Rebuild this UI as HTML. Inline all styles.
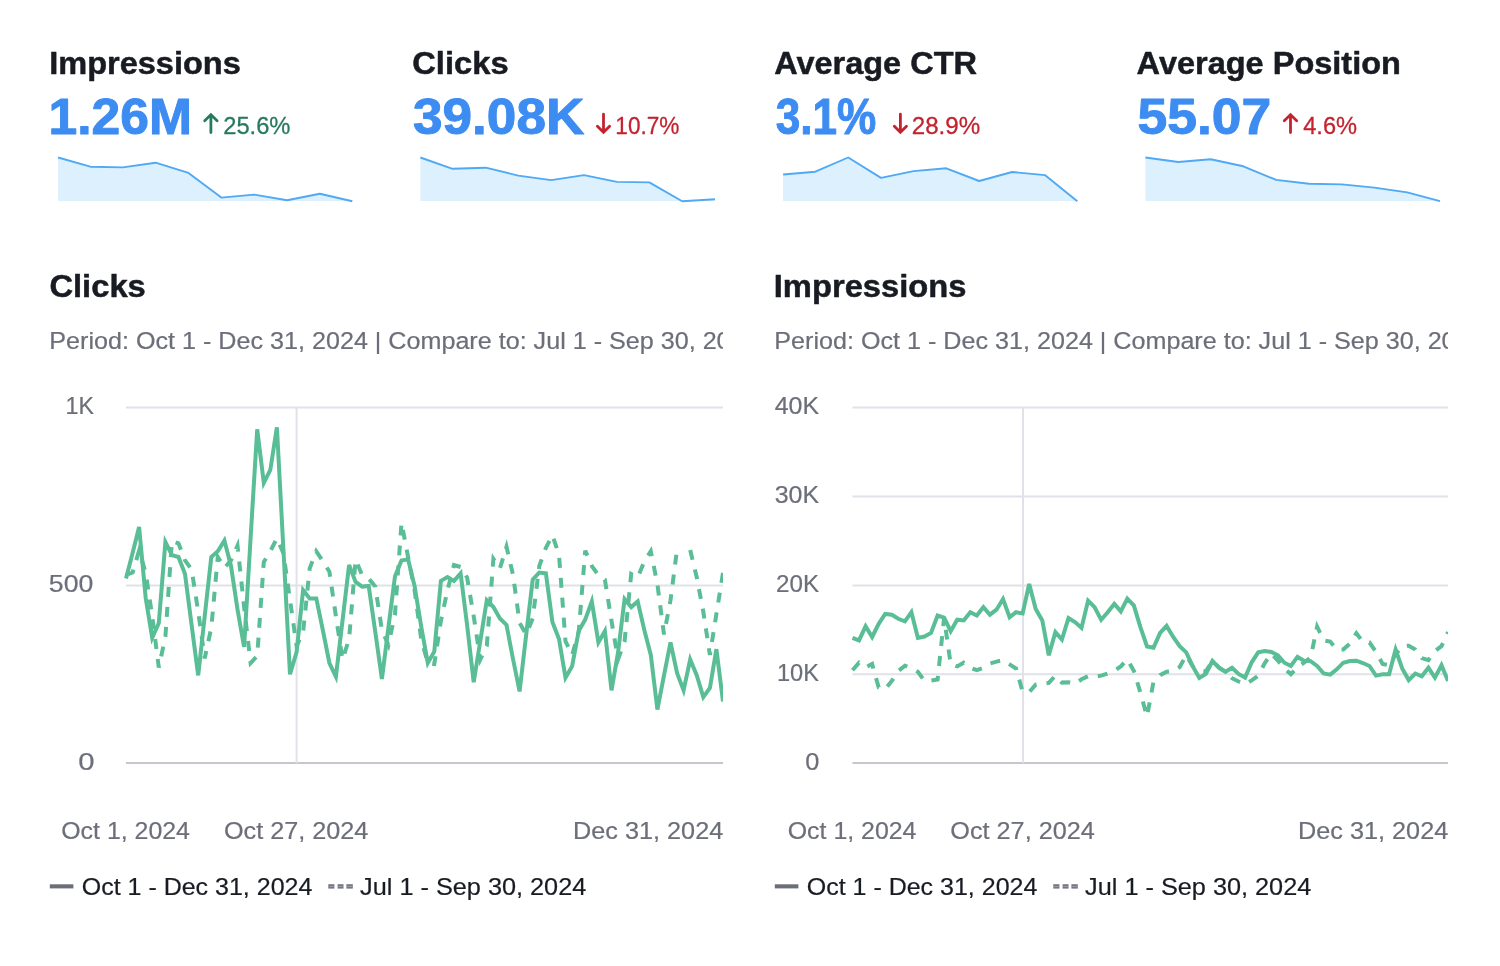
<!DOCTYPE html>
<html><head><meta charset="utf-8"><title>Search performance</title>
<style>
html,body{margin:0;padding:0;background:#fff;}
body{width:1500px;height:966px;overflow:hidden;font-family:"Liberation Sans",sans-serif;}
svg{display:block}
text{font-family:"Liberation Sans",sans-serif;}
.h{font-size:31.5px;font-weight:700;fill:#191b23;letter-spacing:-0.2px}
.big{font-size:48.5px;font-weight:700;fill:#3d8cf2;letter-spacing:-0.6px}
.delta{font-size:23px;letter-spacing:0.2px}
.sub{font-size:23.5px;fill:#6c6e79;letter-spacing:0.55px}
.ax{font-size:23.5px;fill:#6c6e79;letter-spacing:0.5px}
.lg{font-size:23.5px;fill:#191b23;letter-spacing:0.5px}
</style></head><body>
<svg width="1500" height="966" viewBox="0 0 1500 966" style="will-change:transform">
<rect width="1500" height="966" fill="#ffffff"/>
<text transform="translate(49.18 73.60) scale(1.0330 1)" font-size="31.5" font-weight="700" fill="#191b23" stroke="#191b23" stroke-width="0.5" stroke-linejoin="round">Impressions</text><text transform="translate(48.44 133.60) scale(1.0201 1)" font-size="50.6" font-weight="700" fill="#3d8cf2" stroke="#3d8cf2" stroke-width="1.0" stroke-linejoin="round">1.26M</text><path d="M210.9 132.6 V115 M204.7 120.7 L210.9 114.6 L217.1 120.7" fill="none" stroke="#27795f" stroke-width="2.8" stroke-linecap="round" stroke-linejoin="miter"/><text transform="translate(223.19 133.80) scale(0.9603 1)" font-size="24.7" font-weight="400" fill="#27795f" stroke="#27795f" stroke-width="0.3" stroke-linejoin="round">25.6%</text><path d="M58.1 157.5 L90.3 166.7 L122.7 167.4 L155.6 162.7 L188.5 172.9 L221.3 197.6 L254.2 194.6 L287.1 200.3 L319.9 193.7 L352.3 201.2 L352.3 201.0 L58.1 201.0 Z" fill="#dcf0fe" stroke="none"/><path d="M58.1 157.5 L90.3 166.7 L122.7 167.4 L155.6 162.7 L188.5 172.9 L221.3 197.6 L254.2 194.6 L287.1 200.3 L319.9 193.7 L352.3 201.2" fill="none" stroke="#50a9f4" stroke-width="1.9" stroke-linejoin="round"/><text transform="translate(412.21 73.60) scale(1.0385 1)" font-size="31.5" font-weight="700" fill="#191b23" stroke="#191b23" stroke-width="0.5" stroke-linejoin="round">Clicks</text><text transform="translate(413.05 133.60) scale(1.0497 1)" font-size="50.6" font-weight="700" fill="#3d8cf2" stroke="#3d8cf2" stroke-width="1.0" stroke-linejoin="round">39.08K</text><path d="M603.5 114.2 V131.8 M597.4 126.2 L603.5 132.2 L609.6 126.2" fill="none" stroke="#c3232f" stroke-width="2.8" stroke-linecap="round" stroke-linejoin="miter"/><text transform="translate(615.32 133.80) scale(0.9149 1)" font-size="24.7" font-weight="400" fill="#c3232f" stroke="#c3232f" stroke-width="0.3" stroke-linejoin="round">10.7%</text><path d="M420.4 157.5 L452.6 168.8 L485.7 167.7 L518.3 175.6 L551.2 180.1 L584.0 175.1 L616.9 181.9 L649.3 182.4 L682.2 201.2 L715.0 199.2 L715.0 201.0 L420.4 201.0 Z" fill="#dcf0fe" stroke="none"/><path d="M420.4 157.5 L452.6 168.8 L485.7 167.7 L518.3 175.6 L551.2 180.1 L584.0 175.1 L616.9 181.9 L649.3 182.4 L682.2 201.2 L715.0 199.2" fill="none" stroke="#50a9f4" stroke-width="1.9" stroke-linejoin="round"/><text transform="translate(774.22 73.60) scale(1.0313 1)" font-size="31.5" font-weight="700" fill="#191b23" stroke="#191b23" stroke-width="0.5" stroke-linejoin="round">Average CTR</text><text transform="translate(775.63 133.60) scale(0.8726 1)" font-size="50.6" font-weight="700" fill="#3d8cf2" stroke="#3d8cf2" stroke-width="1.0" stroke-linejoin="round">3.1%</text><path d="M900.4 114.2 V131.8 M894.3 126.2 L900.4 132.2 L906.5 126.2" fill="none" stroke="#c3232f" stroke-width="2.8" stroke-linecap="round" stroke-linejoin="miter"/><text transform="translate(911.77 133.80) scale(0.9779 1)" font-size="24.7" font-weight="400" fill="#c3232f" stroke="#c3232f" stroke-width="0.3" stroke-linejoin="round">28.9%</text><path d="M783.1 174.5 L815.3 171.7 L848.2 157.5 L881.0 177.9 L913.5 171.1 L946.3 168.3 L979.2 181.0 L1012.1 172.0 L1044.9 175.1 L1077.3 201.2 L1077.3 201.0 L783.1 201.0 Z" fill="#dcf0fe" stroke="none"/><path d="M783.1 174.5 L815.3 171.7 L848.2 157.5 L881.0 177.9 L913.5 171.1 L946.3 168.3 L979.2 181.0 L1012.1 172.0 L1044.9 175.1 L1077.3 201.2" fill="none" stroke="#50a9f4" stroke-width="1.9" stroke-linejoin="round"/><text transform="translate(1136.62 73.60) scale(1.0320 1)" font-size="31.5" font-weight="700" fill="#191b23" stroke="#191b23" stroke-width="0.5" stroke-linejoin="round">Average Position</text><text transform="translate(1137.39 133.60) scale(1.0574 1)" font-size="50.6" font-weight="700" fill="#3d8cf2" stroke="#3d8cf2" stroke-width="1.0" stroke-linejoin="round">55.07</text><path d="M1290.5 132.6 V115 M1284.3 120.7 L1290.5 114.6 L1296.7 120.7" fill="none" stroke="#c3232f" stroke-width="2.8" stroke-linecap="round" stroke-linejoin="miter"/><text transform="translate(1303.19 133.80) scale(0.9574 1)" font-size="24.7" font-weight="400" fill="#c3232f" stroke="#c3232f" stroke-width="0.3" stroke-linejoin="round">4.6%</text><path d="M1145.4 157.5 L1178.3 162.0 L1210.7 159.3 L1243.3 166.3 L1276.2 179.9 L1309.0 183.7 L1341.9 184.4 L1374.3 187.6 L1407.2 192.4 L1440.0 201.2 L1440.0 201.0 L1145.4 201.0 Z" fill="#dcf0fe" stroke="none"/><path d="M1145.4 157.5 L1178.3 162.0 L1210.7 159.3 L1243.3 166.3 L1276.2 179.9 L1309.0 183.7 L1341.9 184.4 L1374.3 187.6 L1407.2 192.4 L1440.0 201.2" fill="none" stroke="#50a9f4" stroke-width="1.9" stroke-linejoin="round"/><text transform="translate(49.41 297.00) scale(1.0385 1)" font-size="31.5" font-weight="700" fill="#191b23" stroke="#191b23" stroke-width="0.5" stroke-linejoin="round">Clicks</text><svg x="0" y="320" width="723.0" height="40" overflow="hidden"><text transform="translate(49.36 28.8) scale(1.0695 1)" font-size="23.5" fill="#6c6e79" stroke="#6c6e79" stroke-width="0.2">Period: Oct 1 - Dec 31, 2024 | Compare to: Jul 1 - Sep 30, 2024</text></svg><line x1="126.0" x2="723.0" y1="407.6" y2="407.6" stroke="#e0e1e9" stroke-width="2"/><text transform="translate(65.42 414.40) scale(0.9923 1)" font-size="23.5" font-weight="400" fill="#6c6e79" stroke="#6c6e79" stroke-width="0.2" stroke-linejoin="round">1K</text><line x1="126.0" x2="723.0" y1="585.4" y2="585.4" stroke="#e0e1e9" stroke-width="2"/><text transform="translate(48.86 592.15) scale(1.1368 1)" font-size="23.5" font-weight="400" fill="#6c6e79" stroke="#6c6e79" stroke-width="0.2" stroke-linejoin="round">500</text><line x1="126.0" x2="723.0" y1="763.1" y2="763.1" stroke="#c4c7cf" stroke-width="2"/><text transform="translate(78.25 769.90) scale(1.2455 1)" font-size="23.5" font-weight="400" fill="#6c6e79" stroke="#6c6e79" stroke-width="0.2" stroke-linejoin="round">0</text><line x1="296.6" x2="296.6" y1="407.6" y2="763.1" stroke="#e0e1e9" stroke-width="2"/><svg x="0" y="0" width="723.0" height="966" overflow="hidden"><path d="M126.0 575.0 L132.6 572.5 L139.1 550.6 L145.7 573.0 L152.2 616.0 L158.8 667.5 L165.4 636.7 L171.9 541.0 L178.5 543.3 L185.0 560.4 L191.6 569.5 L198.2 611.6 L204.7 658.4 L211.3 627.6 L217.8 557.0 L224.4 568.0 L231.0 560.4 L237.5 545.6 L244.1 607.0 L250.6 663.0 L257.2 656.0 L263.8 562.0 L270.3 551.3 L276.9 538.3 L283.5 553.5 L290.0 600.0 L296.6 646.0 L303.1 632.0 L309.7 568.4 L316.3 551.3 L322.8 561.0 L329.4 571.8 L335.9 616.2 L342.5 659.5 L349.1 639.0 L355.6 559.7 L362.2 575.2 L368.7 578.6 L375.3 586.6 L381.9 630.0 L388.4 645.0 L395.0 614.0 L401.5 522.8 L408.1 557.0 L414.7 591.0 L421.2 639.0 L427.8 663.0 L434.3 664.0 L440.9 621.0 L447.5 590.0 L454.0 565.0 L460.6 567.0 L467.1 577.5 L473.7 616.2 L480.3 659.5 L486.8 646.0 L493.4 558.8 L499.9 568.4 L506.5 546.7 L513.1 575.2 L519.6 623.0 L526.2 634.4 L532.7 618.5 L539.3 566.0 L545.9 547.8 L552.4 535.3 L559.0 554.7 L565.5 641.3 L572.1 655.0 L578.7 632.0 L585.2 550.6 L591.8 566.0 L598.4 575.2 L604.9 579.7 L611.5 620.8 L618.0 659.5 L624.6 641.3 L631.2 574.0 L637.7 577.5 L644.3 561.5 L650.8 551.3 L657.4 584.3 L664.0 634.4 L670.5 600.3 L677.1 549.0 M690.2 550.0 L696.8 577.5 L703.3 611.6 L709.9 655.0 L716.4 614.0 L723.0 572.9" fill="none" stroke="#59bd96" stroke-width="4" stroke-dasharray="10 10" stroke-linejoin="miter"/><path d="M126.0 578.6 L132.6 552.9 L139.1 526.9 L145.7 598.0 L152.2 637.8 L158.8 623.0 L165.4 542.0 L171.9 555.1 L178.5 557.0 L185.0 574.0 L191.6 624.9 L198.2 675.4 L204.7 616.2 L211.3 557.0 L217.8 551.3 L224.4 540.6 L231.0 566.0 L237.5 609.4 L244.1 647.0 L250.6 538.0 L257.2 429.3 L263.8 483.0 L270.3 470.0 L276.9 427.3 L283.5 551.0 L290.0 674.3 L296.6 652.0 L303.1 590.0 L309.7 598.4 L316.3 598.4 L322.8 630.0 L329.4 663.0 L335.9 676.6 L342.5 620.8 L349.1 565.0 L355.6 582.0 L362.2 586.6 L368.7 586.0 L375.3 632.0 L381.9 678.9 L388.4 627.6 L395.0 576.3 L401.5 560.4 L408.1 559.2 L414.7 586.6 L421.2 626.5 L427.8 663.0 L434.3 651.5 L440.9 580.9 L447.5 577.0 L454.0 580.9 L460.6 573.4 L467.1 625.0 L473.7 682.3 L480.3 641.0 L486.8 600.3 L493.4 607.0 L499.9 618.5 L506.5 624.9 L513.1 659.5 L519.6 691.4 L526.2 634.4 L532.7 579.7 L539.3 572.5 L545.9 573.4 L552.4 621.9 L559.0 639.0 L565.5 677.7 L572.1 666.3 L578.7 631.0 L585.2 619.6 L591.8 601.4 L598.4 642.4 L604.9 631.0 L611.5 690.3 L618.0 652.7 L624.6 599.1 L631.2 607.1 L637.7 601.4 L644.3 629.9 L650.8 654.9 L657.4 709.6 L664.0 675.4 L670.5 642.4 L677.1 673.2 L683.6 690.3 L690.2 659.5 L696.8 675.4 L703.3 697.1 L709.9 688.0 L716.4 649.2 L723.0 701.6" fill="none" stroke="#59bd96" stroke-width="4" stroke-linejoin="miter"/></svg><text transform="translate(61.24 838.80) scale(1.0600 1)" font-size="23.5" font-weight="400" fill="#6c6e79" stroke="#6c6e79" stroke-width="0.2" stroke-linejoin="round">Oct 1, 2024</text><text transform="translate(223.90 838.80) scale(1.0737 1)" font-size="23.5" font-weight="400" fill="#6c6e79" stroke="#6c6e79" stroke-width="0.2" stroke-linejoin="round">Oct 27, 2024</text><text transform="translate(573.05 838.80) scale(1.0752 1)" font-size="23.5" font-weight="400" fill="#6c6e79" stroke="#6c6e79" stroke-width="0.2" stroke-linejoin="round">Dec 31, 2024</text><rect x="49.8" y="884.3" width="23.6" height="4.1" fill="#6c6e79"/><text transform="translate(81.74 894.80) scale(1.0642 1)" font-size="23.5" font-weight="400" fill="#191b23" stroke="#191b23" stroke-width="0.2" stroke-linejoin="round">Oct 1 - Dec 31, 2024</text><rect x="328.3" y="884.2" width="6.1" height="4.4" fill="#757783"/><rect x="329.1" y="886.0" width="4.5" height="0.8" fill="#a3a5af"/><rect x="337.6" y="884.2" width="5.9" height="4.4" fill="#757783"/><rect x="338.4" y="886.0" width="4.3" height="0.8" fill="#a3a5af"/><rect x="346.4" y="884.2" width="6.4" height="4.4" fill="#757783"/><rect x="347.2" y="886.0" width="4.8" height="0.8" fill="#a3a5af"/><text transform="translate(360.12 894.80) scale(1.0756 1)" font-size="23.5" font-weight="400" fill="#191b23" stroke="#191b23" stroke-width="0.2" stroke-linejoin="round">Jul 1 - Sep 30, 2024</text><text transform="translate(773.77 297.00) scale(1.0385 1)" font-size="31.5" font-weight="700" fill="#191b23" stroke="#191b23" stroke-width="0.5" stroke-linejoin="round">Impressions</text><svg x="0" y="320" width="1448.0" height="40" overflow="hidden"><text transform="translate(774.36 28.8) scale(1.0695 1)" font-size="23.5" fill="#6c6e79" stroke="#6c6e79" stroke-width="0.2">Period: Oct 1 - Dec 31, 2024 | Compare to: Jul 1 - Sep 30, 2024</text></svg><line x1="852.5" x2="1448.0" y1="407.6" y2="407.6" stroke="#e0e1e9" stroke-width="2"/><text transform="translate(774.64 414.40) scale(1.0625 1)" font-size="23.5" font-weight="400" fill="#6c6e79" stroke="#6c6e79" stroke-width="0.2" stroke-linejoin="round">40K</text><line x1="852.5" x2="1448.0" y1="496.5" y2="496.5" stroke="#e0e1e9" stroke-width="2"/><text transform="translate(774.64 503.28) scale(1.0625 1)" font-size="23.5" font-weight="400" fill="#6c6e79" stroke="#6c6e79" stroke-width="0.2" stroke-linejoin="round">30K</text><line x1="852.5" x2="1448.0" y1="585.4" y2="585.4" stroke="#e0e1e9" stroke-width="2"/><text transform="translate(775.97 592.15) scale(1.0300 1)" font-size="23.5" font-weight="400" fill="#6c6e79" stroke="#6c6e79" stroke-width="0.2" stroke-linejoin="round">20K</text><line x1="852.5" x2="1448.0" y1="674.2" y2="674.2" stroke="#e0e1e9" stroke-width="2"/><text transform="translate(776.99 681.02) scale(1.0051 1)" font-size="23.5" font-weight="400" fill="#6c6e79" stroke="#6c6e79" stroke-width="0.2" stroke-linejoin="round">10K</text><line x1="852.5" x2="1448.0" y1="763.1" y2="763.1" stroke="#c4c7cf" stroke-width="2"/><text transform="translate(805.22 769.90) scale(1.0818 1)" font-size="23.5" font-weight="400" fill="#6c6e79" stroke="#6c6e79" stroke-width="0.2" stroke-linejoin="round">0</text><line x1="1023.0" x2="1023.0" y1="407.6" y2="763.1" stroke="#e0e1e9" stroke-width="2"/><svg x="0" y="0" width="1448.0" height="966" overflow="hidden"><path d="M852.5 670.2 L859.0 662.7 L865.6 667.4 L872.1 664.0 L878.7 687.6 L885.2 689.2 L891.8 680.9 L898.3 671.0 L904.9 665.7 L911.4 668.5 L917.9 671.8 L924.5 680.9 L931.0 680.6 L937.6 679.6 L944.1 618.0 L950.7 664.4 L957.2 666.4 L963.7 662.7 L970.3 667.7 L976.8 670.2 L983.4 667.7 L989.9 663.5 L996.5 661.6 L1003.0 660.2 L1009.6 664.4 L1016.1 668.5 L1022.6 691.7 L1029.2 692.2 L1035.7 684.6 L1042.3 683.7 L1048.8 682.9 L1055.4 675.6 L1061.9 682.6 L1068.5 682.3 L1075.0 683.9 L1081.5 679.3 L1088.1 676.3 L1094.6 676.8 L1101.2 675.6 L1107.7 673.5 L1114.3 671.0 L1120.8 666.4 L1127.3 659.4 L1133.9 671.0 L1140.4 692.5 L1147.0 716.5 L1153.5 681.8 L1160.1 675.1 L1166.6 671.8 L1173.2 671.0 L1179.7 667.0 L1186.2 655.3 L1192.8 666.4 L1199.3 670.6 L1205.9 671.4 L1212.4 661.0 L1219.0 667.7 L1225.5 671.8 L1232.0 678.2 L1238.6 681.5 L1245.1 684.2 L1251.7 680.4 L1258.2 675.7 L1264.8 663.1 L1271.3 653.6 L1277.9 660.6 L1284.4 668.5 L1290.9 674.3 L1297.5 667.3 L1304.0 662.7 L1310.6 657.7 L1317.1 626.6 L1323.7 640.4 L1330.2 641.5 L1336.8 649.5 L1343.3 649.5 L1349.8 643.7 L1356.4 633.2 L1362.9 642.0 L1369.5 642.5 L1376.0 651.9 L1382.6 664.0 L1389.1 665.2 L1395.6 654.4 L1402.2 646.2 L1408.7 645.7 L1415.3 649.5 L1421.8 658.1 L1428.4 660.2 L1434.9 651.1 L1441.5 646.2 L1448.0 632.1" fill="none" stroke="#59bd96" stroke-width="4" stroke-dasharray="10 10" stroke-linejoin="miter"/><path d="M852.5 637.9 L859.0 640.4 L865.6 626.3 L872.1 637.0 L878.7 623.8 L885.2 613.9 L891.8 614.7 L898.3 618.8 L904.9 621.3 L911.4 612.2 L917.9 637.9 L924.5 636.5 L931.0 632.9 L937.6 615.5 L944.1 617.7 L950.7 631.2 L957.2 619.7 L963.7 620.5 L970.3 612.2 L976.8 615.5 L983.4 607.2 L989.9 614.7 L996.5 609.7 L1003.0 599.0 L1009.6 617.2 L1016.1 612.2 L1022.6 613.4 L1029.2 584.0 L1035.7 608.9 L1042.3 620.5 L1048.8 655.3 L1055.4 632.1 L1061.9 639.5 L1068.5 618.0 L1075.0 622.1 L1081.5 627.9 L1088.1 600.6 L1094.6 607.2 L1101.2 619.7 L1107.7 612.2 L1114.3 603.9 L1120.8 611.4 L1127.3 598.6 L1133.9 605.6 L1140.4 627.1 L1147.0 646.5 L1153.5 647.8 L1160.1 632.9 L1166.6 625.9 L1173.2 637.0 L1179.7 646.2 L1186.2 652.4 L1192.8 666.4 L1199.3 678.0 L1205.9 673.9 L1212.4 661.0 L1219.0 667.7 L1225.5 671.8 L1232.0 667.7 L1238.6 673.9 L1245.1 677.6 L1251.7 662.3 L1258.2 652.4 L1264.8 651.1 L1271.3 651.9 L1277.9 655.3 L1284.4 662.7 L1290.9 666.0 L1297.5 656.9 L1304.0 660.7 L1310.6 661.1 L1317.1 666.0 L1323.7 673.5 L1330.2 674.6 L1336.8 669.3 L1343.3 662.7 L1349.8 661.1 L1356.4 660.7 L1362.9 663.0 L1369.5 666.0 L1376.0 675.6 L1382.6 674.3 L1389.1 674.3 L1395.6 649.5 L1402.2 668.5 L1408.7 680.1 L1415.3 673.5 L1421.8 676.3 L1428.4 667.7 L1434.9 677.6 L1441.5 665.2 L1448.0 680.9" fill="none" stroke="#59bd96" stroke-width="4" stroke-linejoin="miter"/></svg><text transform="translate(787.74 838.80) scale(1.0600 1)" font-size="23.5" font-weight="400" fill="#6c6e79" stroke="#6c6e79" stroke-width="0.2" stroke-linejoin="round">Oct 1, 2024</text><text transform="translate(950.32 838.80) scale(1.0737 1)" font-size="23.5" font-weight="400" fill="#6c6e79" stroke="#6c6e79" stroke-width="0.2" stroke-linejoin="round">Oct 27, 2024</text><text transform="translate(1298.05 838.80) scale(1.0752 1)" font-size="23.5" font-weight="400" fill="#6c6e79" stroke="#6c6e79" stroke-width="0.2" stroke-linejoin="round">Dec 31, 2024</text><rect x="774.8" y="884.3" width="23.6" height="4.1" fill="#6c6e79"/><text transform="translate(806.74 894.80) scale(1.0642 1)" font-size="23.5" font-weight="400" fill="#191b23" stroke="#191b23" stroke-width="0.2" stroke-linejoin="round">Oct 1 - Dec 31, 2024</text><rect x="1053.3" y="884.2" width="6.1" height="4.4" fill="#757783"/><rect x="1054.1" y="886.0" width="4.5" height="0.8" fill="#a3a5af"/><rect x="1062.6" y="884.2" width="5.9" height="4.4" fill="#757783"/><rect x="1063.4" y="886.0" width="4.3" height="0.8" fill="#a3a5af"/><rect x="1071.4" y="884.2" width="6.4" height="4.4" fill="#757783"/><rect x="1072.2" y="886.0" width="4.8" height="0.8" fill="#a3a5af"/><text transform="translate(1085.12 894.80) scale(1.0756 1)" font-size="23.5" font-weight="400" fill="#191b23" stroke="#191b23" stroke-width="0.2" stroke-linejoin="round">Jul 1 - Sep 30, 2024</text>
</svg>
</body></html>
